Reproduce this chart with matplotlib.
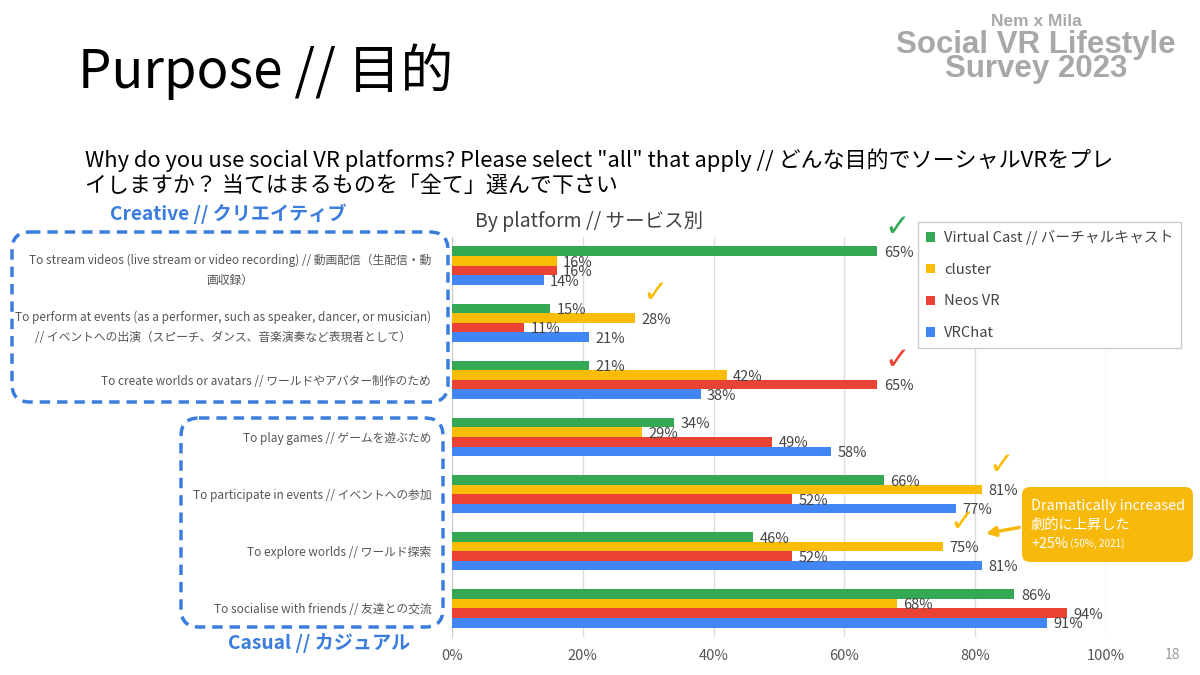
import numpy as np
import matplotlib
matplotlib.use("Agg")
import matplotlib.pyplot as plt
from matplotlib.patches import FancyBboxPatch, Patch

# data
categories = [
    "To stream videos (live stream or video recording) // 動画配信（生配信・動\n画収録）",
    "To perform at events (as a performer, such as speaker, dancer, or musician)\n// イベントへの出演（スピーチ、ダンス、音楽演奏など表現者として）",
    "To create worlds or avatars // ワールドやアバター制作のため",
    "To play games // ゲームを遊ぶため",
    "To participate in events // イベントへの参加",
    "To explore worlds // ワールド探索",
    "To socialise with friends // 友達との交流",
]
series_names = ["Virtual Cast // バーチャルキャスト", "cluster", "Neos VR", "VRChat"]
virtual_cast = [65, 15, 21, 34, 66, 46, 86]
cluster = [16, 28, 42, 29, 81, 75, 68]
neos_vr = [16, 11, 65, 49, 52, 52, 94]
vrchat = [14, 21, 38, 58, 77, 81, 91]
series_values = [virtual_cast, cluster, neos_vr, vrchat]
colors = ["#34A853", "#FBBC04", "#EA4335", "#4285F4"]
x_ticks = [0, 20, 40, 60, 80, 100]
# (series index, category index) that get a tick mark
checks = [(0, 0), (1, 1), (2, 2), (1, 4), (1, 5)]

JP = ["Noto Sans CJK JP", "DejaVu Sans"]
plt.rcParams["font.family"] = JP

fig = plt.figure(figsize=(12, 6.75), dpi=100)
fig.patch.set_facecolor("white")

# chart area (0% at x=452px, 100% at x=1106px)
ax = fig.add_axes([452 / 1200, 1 - 637 / 675, 654 / 1200, 400 / 675])
n = len(categories)
h = 0.167
y = np.arange(n)
for i, (vals, c) in enumerate(zip(series_values, colors)):
    yy = y + (i - 1.5) * h
    ax.barh(yy, vals, height=h, color=c, zorder=3, label=series_names[i])
    for yv, v in zip(yy, vals):
        ax.text(v + 1.0, yv + 0.03, f"{v}%", va="center", ha="left",
                fontsize=10.5, color="#444444", zorder=4)

for si, ci in checks:
    v = series_values[si][ci]
    ax.text(v + 3, ci + (si - 1.5) * h - 0.42, "✓", family="DejaVu Sans",
            fontsize=22, color=colors[si], ha="center", va="center", zorder=5)

ax.set_xlim(0, 100)
ax.set_ylim(n - 0.5, -0.5)
ax.set_xticks(x_ticks)
ax.set_xticklabels([f"{t}%" for t in x_ticks], fontsize=10.5, color="#555555")
ax.set_yticks(y)
ax.set_yticklabels(categories, fontsize=8.5, color="#555555",
                   multialignment="center", linespacing=1.7)
ax.tick_params(axis="both", length=0)
ax.tick_params(axis="y", pad=15)
ax.tick_params(axis="x", pad=9)
ax.grid(axis="x", color="#dddddd", lw=1, zorder=0)
for s in ["top", "right", "bottom"]:
    ax.spines[s].set_visible(False)
ax.spines["left"].set_color("#cccccc")

handles = [Patch(facecolor=c, edgecolor="none") for c in colors]
fig.legend(handles, series_names, loc="upper left",
           bbox_to_anchor=(918 / 1200, 1 - 222 / 675), borderaxespad=0,
           fontsize=10.6, frameon=True, fancybox=False, edgecolor="#cccccc",
           framealpha=1, handlelength=0.6, handleheight=0.6,
           handletextpad=0.6, labelspacing=1.2, borderpad=0.55,
           labelcolor="#444444")

# overlay in pixel coordinates for slide decorations
ov = fig.add_axes([0, 0, 1, 1])
ov.set_xlim(0, 1200)
ov.set_ylim(675, 0)
ov.axis("off")
ov.patch.set_visible(False)

ov.text(78, 72, "Purpose // 目的", fontsize=38, color="black",
        ha="left", va="center")
ov.text(1036, 22, "Nem x Mila", family="Liberation Sans", weight="bold",
        fontsize=12.5, color="#a8a8a8", ha="center", va="center")
ov.text(1036, 45, "Social VR Lifestyle", family="Liberation Sans", weight="bold",
        fontsize=22.5, color="#a8a8a8", ha="center", va="center")
ov.text(1036, 69, "Survey 2023", family="Liberation Sans", weight="bold",
        fontsize=22.5, color="#a8a8a8", ha="center", va="center")

ov.text(85, 160, 'Why do you use social VR platforms? Please select "all" that apply // どんな目的でソーシャルVRをプレ',
        fontsize=15.8, color="black", ha="left", va="center")
ov.text(85, 186, "イしますか？ 当てはまるものを「全て」選んで下さい",
        fontsize=15.8, color="black", ha="left", va="center")

ov.text(475, 222, "By platform // サービス別", fontsize=14, color="#444444",
        ha="left", va="center")

blue = "#3B7DDD"
ov.text(228, 214, "Creative // クリエイティブ", fontsize=13.8, weight="bold",
        color=blue, ha="center", va="center")
ov.text(319, 643, "Casual // カジュアル", fontsize=13.8, weight="bold",
        color=blue, ha="center", va="center")
ov.add_patch(FancyBboxPatch((12, 232), 436, 170,
                            boxstyle="round,pad=0,rounding_size=18",
                            fill=False, edgecolor=blue, lw=2.5, ls=(0, (3, 2))))
ov.add_patch(FancyBboxPatch((181, 418), 262, 209,
                            boxstyle="round,pad=0,rounding_size=18",
                            fill=False, edgecolor=blue, lw=2.5, ls=(0, (3, 2))))

# callout
orange = "#F7B90C"
ov.add_patch(FancyBboxPatch((1022, 487), 171, 75,
                            boxstyle="round,pad=0,rounding_size=8",
                            facecolor=orange, edgecolor="none"))
ov.text(1031, 506, "Dramatically increased", fontsize=10.3, color="white",
        ha="left", va="center")
ov.text(1031, 525, "劇的に上昇した", fontsize=10.3, color="white",
        ha="left", va="center")
t = ov.text(1031, 544, "+25%", fontsize=10.3, color="white", ha="left", va="center")
ov.annotate(" (50%, 2021)", xycoords=t, xy=(1, 0.5), va="center", ha="left",
            fontsize=7.2, color="white")
ov.annotate("", xy=(983, 534), xytext=(1022, 527),
            arrowprops=dict(arrowstyle="-|>", color=orange, lw=2.5,
                            mutation_scale=14))

ov.text(1172, 655, "18", fontsize=10, color="#999999", ha="center", va="center")

fig.savefig("out.png", dpi=100, facecolor="white")
